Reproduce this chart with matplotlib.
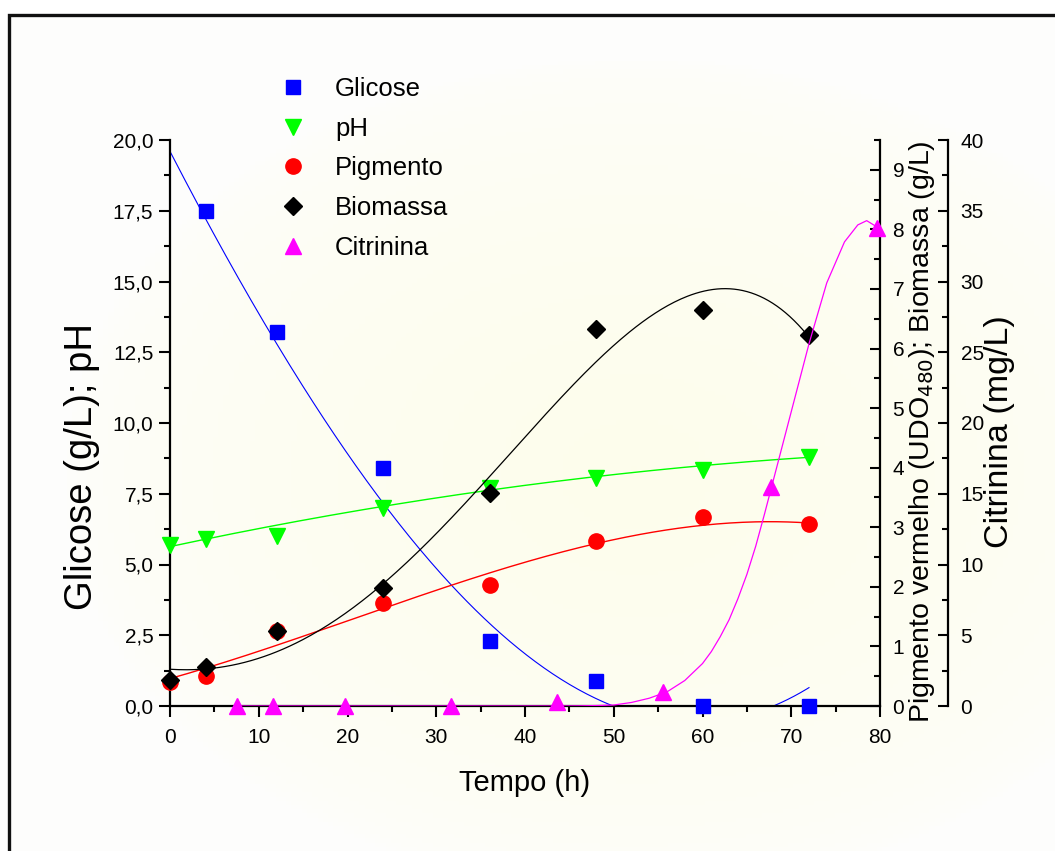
import numpy as np
import matplotlib
matplotlib.use("Agg")
import matplotlib.pyplot as plt
from matplotlib.lines import Line2D
from matplotlib.patches import Rectangle
from matplotlib.ticker import MultipleLocator, FuncFormatter

plt.rcParams['font.family'] = ['Liberation Sans', 'DejaVu Sans']

tempo = [0, 4, 12, 24, 36, 48, 60, 72]
glicose_t = [4, 12, 24, 36, 48, 60, 72]
glicose = [17.5, 13.2, 8.4, 2.3, 0.9, 0.0, 0.0]
ph = [5.7, 5.9, 6.0, 7.0, 7.7, 8.07, 8.35, 8.8]
pigmento = [0.40, 0.50, 1.26, 1.73, 2.03, 2.77, 3.17, 3.05]
biomassa = [0.44, 0.65, 1.26, 1.98, 3.57, 6.32, 6.64, 6.22]
citrinina_t = [7.6, 11.6, 19.7, 31.7, 43.6, 55.6, 67.7, 79.7]
citrinina = [0.0, 0.0, 0.0, 0.0, 0.3, 1.0, 15.5, 33.8]

glicose_fit_t = [0, 12, 24, 36, 50, 68, 72]
glicose_fit = [19.6, 12.8, 7.2, 2.9, 0.0, 0.0, 0.65]
ph_fit_t = [0, 24, 48, 72]
ph_fit = [5.65, 7.0, 8.16, 8.77]
pigmento_fit_t = [0, 4.1, 12, 15.8, 27, 36, 48.5, 66.5, 72]
pigmento_fit = [0.45, 0.64, 1.06, 1.19, 1.78, 2.22, 2.76, 3.09, 3.07]
biomassa_fit_t = [0, 4.1, 12, 15.8, 19.5, 22.2, 36, 48, 61, 72]
biomassa_fit = [0.58, 0.66, 0.94, 1.22, 1.5, 1.78, 3.78, 5.93, 6.88, 6.22]
citrinina_fit_t = [7.6, 44, 46, 48, 50, 52, 54, 56, 58, 60, 61, 62, 63, 64, 65,
                   66, 67, 68, 70, 72, 74, 76, 77.5, 78.5, 79.8]
citrinina_fit = [0.0, 0.0, 0.01, 0.03, 0.07, 0.25, 0.55, 1.0, 1.8, 3.0, 3.85, 4.9,
                 6.1, 7.6, 9.3, 11.3, 13.6, 16.0, 20.8, 25.6, 29.9, 32.8, 34.0,
                 34.3, 33.8]


def smooth(x, y, deg):
    c = np.polyfit(x, y, deg)
    xs = np.linspace(min(x), max(x), 300)
    return xs, np.polyval(c, xs)


fig = plt.figure(figsize=(10.55, 8.51), dpi=100)

# pale background with a soft yellow glow, inside a black frame
bg = fig.add_axes([0, 0, 1, 1], zorder=-5)
bg.set_axis_off()
gx, gy = np.meshgrid(np.linspace(0, 1, 200), np.linspace(0, 1, 200))
r = np.sqrt(((gx - 0.6) / 0.55) ** 2 + ((gy - 0.45) / 0.5) ** 2)
w = np.clip(1 - r, 0, 1) ** 0.5
c_edge = np.array([0.996, 0.996, 0.99])
c_mid = np.array([0.995, 0.995, 0.925])
img = c_edge[None, None, :] * (1 - w[..., None]) + c_mid[None, None, :] * w[..., None]
x0f, y1f = 9 / 1055, 1 - 15 / 851
bg.imshow(img, extent=[x0f, 1.0, 0.0, y1f], origin='lower', aspect='auto')
bg.set_xlim(0, 1)
bg.set_ylim(0, 1)
bg.add_patch(Rectangle((x0f, -0.05), 1.1, y1f + 0.05, fill=False,
                       lw=2.4, ec='#111111'))

ax = fig.add_axes([170 / 1055, 1 - 706 / 851, 710 / 1055, 566 / 851])
ax.patch.set_alpha(0)
ax2 = ax.twinx()
ax3 = ax.twinx()

# curves
xs, ys = smooth(glicose_fit_t, glicose_fit, 3)
ax.plot(xs, ys, color='#0000ff', lw=0.8)
xs, ys = smooth(ph_fit_t, ph_fit, 2)
ax.plot(xs, ys, color='#00ff00', lw=1.0)
xs, ys = smooth(pigmento_fit_t, pigmento_fit, 3)
ax2.plot(xs, ys, color='#ff0000', lw=1.0)
xs, ys = smooth(biomassa_fit_t, biomassa_fit, 4)
ax2.plot(xs, ys, color='black', lw=0.9)
ax3.plot(citrinina_fit_t, citrinina_fit, color='#ff00ff', lw=0.9)

# markers
ax.plot(glicose_t, glicose, 's', color='#0000ff', ms=10, clip_on=False, zorder=5)
ax.plot(tempo, ph, 'v', color='#00ff00', ms=12, clip_on=False, zorder=5)
ax2.plot(tempo, pigmento, 'o', color='#ff0000', ms=11, clip_on=False, zorder=5)
ax2.plot(tempo, biomassa, 'D', color='black', ms=9, clip_on=False, zorder=6)
ax3.plot(citrinina_t, citrinina, '^', color='#ff00ff', ms=12, clip_on=False, zorder=5)

# axes limits and ticks
ax.set_xlim(0, 80)
ax.set_ylim(0, 20)
ax2.set_ylim(0, 9.5)
ax3.set_ylim(0, 40)

comma = FuncFormatter(lambda v, p: f"{v:.1f}".replace('.', ','))
ax.xaxis.set_major_locator(MultipleLocator(10))
ax.xaxis.set_minor_locator(MultipleLocator(5))
ax.yaxis.set_major_locator(MultipleLocator(2.5))
ax.yaxis.set_minor_locator(MultipleLocator(1.25))
ax.yaxis.set_major_formatter(comma)
ax2.yaxis.set_major_locator(MultipleLocator(1))
ax2.yaxis.set_minor_locator(MultipleLocator(0.5))
ax3.yaxis.set_major_locator(MultipleLocator(5))
ax3.yaxis.set_minor_locator(MultipleLocator(2.5))

for a in (ax, ax2, ax3):
    a.spines['top'].set_visible(False)
    for s in a.spines.values():
        s.set_linewidth(1.6)
ax.spines['right'].set_visible(False)
ax2.spines['left'].set_visible(False)
ax2.spines['bottom'].set_visible(False)
ax3.spines['left'].set_visible(False)
ax3.spines['bottom'].set_visible(False)
ax3.spines['right'].set_position(('axes', 1 + 68 / 710))

ax.tick_params(axis='both', which='major', direction='out', length=8, width=1.5,
               labelsize=15, pad=4)
ax.tick_params(axis='both', which='minor', direction='out', length=4, width=1.5)
ax.tick_params(axis='x', which='major', pad=8)
for a in (ax2, ax3):
    a.tick_params(axis='y', which='major', direction='in', length=7, width=1.5,
                  labelsize=15, pad=9)
    a.tick_params(axis='y', which='minor', direction='in', length=4, width=1.5)

ax.set_xlabel('Tempo (h)', fontsize=21, labelpad=16)
ax.set_ylabel('Glicose (g/L); pH', fontsize=27.5)
ax.yaxis.set_label_coords(-70 / 710, (706 - 467) / 566)
ax2.set_ylabel('Pigmento vermelho (UDO$_{480}$); Biomassa (g/L)', fontsize=20.5)
ax2.yaxis.set_label_coords(1 + 27 / 710, (706 - 432) / 566)
ax3.set_ylabel('Citrinina (mg/L)', fontsize=24.5)
ax3.yaxis.set_label_coords(1 + 104 / 710, (706 - 432) / 566)

handles = [
    Line2D([], [], ls='none', marker='s', color='#0000ff', ms=10),
    Line2D([], [], ls='none', marker='v', color='#00ff00', ms=12),
    Line2D([], [], ls='none', marker='o', color='#ff0000', ms=11),
    Line2D([], [], ls='none', marker='D', color='black', ms=9),
    Line2D([], [], ls='none', marker='^', color='#ff00ff', ms=12),
]
labels = ['Glicose', 'pH', 'Pigmento', 'Biomassa', 'Citrinina']
fig.legend(handles, labels, loc='upper left', bbox_to_anchor=(280 / 1055, 1 - 77 / 851),
           frameon=False, fontsize=18.5, numpoints=1, handlelength=1.0,
           handletextpad=1.14, labelspacing=0.61, borderpad=0, borderaxespad=0)

fig.savefig('out.png', dpi=100)
